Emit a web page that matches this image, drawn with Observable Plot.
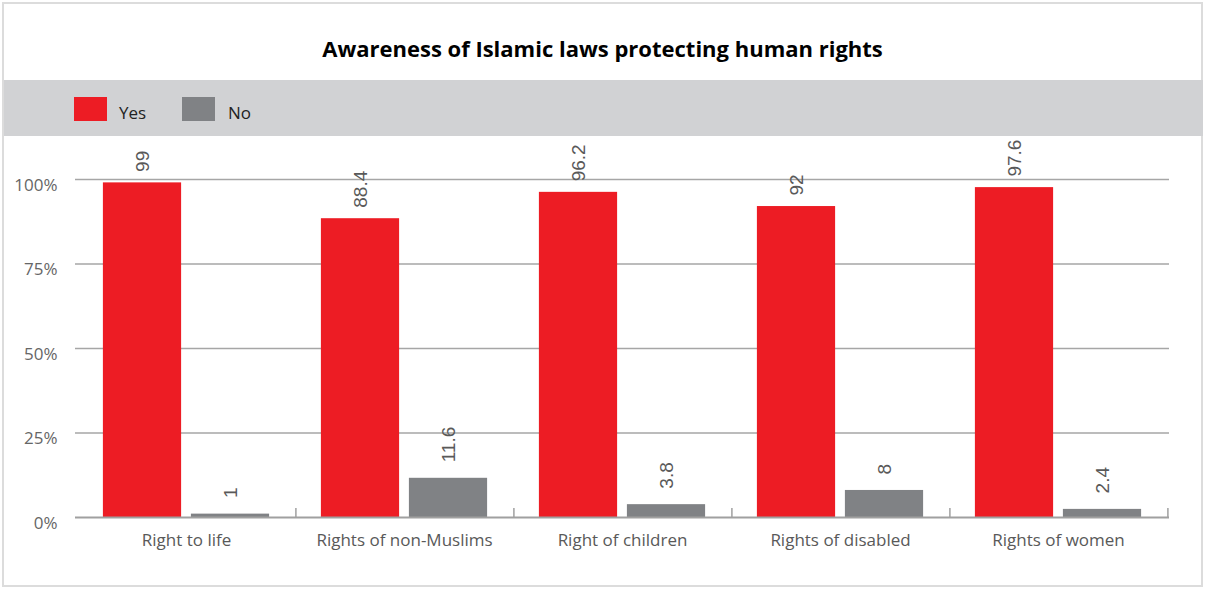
<!DOCTYPE html>
<html>
<head>
<meta charset="utf-8">
<script src="https://cdn.jsdelivr.net/npm/d3@7"></script>
<script src="https://cdn.jsdelivr.net/npm/@observablehq/plot@0.6"></script>
<style>
  html, body { margin: 0; padding: 0; background: #fff; }
  #wrap { position: relative; width: 1205px; height: 589px; overflow: hidden; background: #fff; }
  #border { position: absolute; left: 2px; top: 2px; width: 1201px; height: 585px; border: 2px solid #dcdcdc; box-sizing: border-box; }
  #title { position: absolute; left: 0; width: 1205px; top: 32px; text-align: center; font-family: "Open Sans", sans-serif; font-weight: bold; font-size: 22px; color: #000; line-height: 32px; }
  #legend { position: absolute; left: 4px; top: 80px; width: 1199px; height: 56px; background: #d1d2d4; }
  .sw { position: absolute; top: 17px; width: 33px; height: 24px; }
  .lt { position: absolute; top: 18px; font-family: "Open Sans", sans-serif; font-size: 17px; color: #222; line-height: 30px; }
  #chart { position: absolute; left: 0; top: 136px; }
</style>
</head>
<body>
<div id="wrap">
  <div id="border"></div>
  <div id="title"></div>
  <div id="legend"></div>
  <div id="chart"></div>
</div>
<script>
const title = "Awareness of Islamic laws protecting human rights";
const categories = ["Right to life", "Rights of non-Muslims", "Right of children", "Rights of disabled", "Rights of women"];
const seriesNames = ["Yes", "No"];
const yesValues = [99, 88.4, 96.2, 92, 97.6];
const noValues = [1, 11.6, 3.8, 8, 2.4];
const yTicks = [0, 25, 50, 75, 100];
const colors = ["#ed1c24", "#808285"];

document.getElementById("title").textContent = title;
const legend = document.getElementById("legend");
const swX = [70, 178], txtX = [115, 224];
seriesNames.forEach((s, i) => {
  const sw = document.createElement("div");
  sw.className = "sw"; sw.style.left = swX[i] + "px"; sw.style.background = colors[i];
  legend.appendChild(sw);
  const t = document.createElement("div");
  t.className = "lt"; t.style.left = txtX[i] + "px"; t.textContent = s;
  legend.appendChild(t);
});

const yesData = categories.map((c, i) => ({category: c, value: yesValues[i]}));
const noData = categories.map((c, i) => ({category: c, value: noValues[i]}));

const W = 1205, H = 453, mL = 75, mR = 36;
const bw = (W - mL - mR) / categories.length;
const barW = 79, gap = 9;
const outer = (bw - 2 * barW - gap) / 2;
const yesCenter = outer + barW / 2 - bw / 2;
const noCenter = outer + barW + gap + barW / 2 - bw / 2;

const labelFont = "'Liberation Sans Narrow', 'Liberation Sans', sans-serif";

const chart = Plot.plot({
  width: W,
  height: H,
  marginLeft: mL,
  marginRight: mR,
  marginTop: 43,
  marginBottom: 72,
  style: {fontFamily: "'Open Sans', sans-serif", background: "transparent"},
  x: {domain: categories, padding: 0},
  y: {domain: [0, 100]},
  marks: [
    Plot.ruleY(yTicks.filter(d => d > 0), {stroke: "#a6a6a6", strokeWidth: 1.5}),
    Plot.barY(yesData, {x: "category", y: "value", fill: colors[0], insetLeft: outer, insetRight: bw - outer - barW}),
    Plot.barY(noData, {x: "category", y: "value", fill: colors[1], insetLeft: outer + barW + gap, insetRight: outer}),
    Plot.ruleY([0], {stroke: "#a0a0a0", strokeWidth: 2}),
    Plot.tickX(categories, {x: d => d, dx: bw / 2, stroke: "#a0a0a0", strokeWidth: 1.5, insetTop: 329}),
    Plot.axisY({ticks: yTicks, tickFormat: d => d + "%", tickSize: 0, tickPadding: 18, dy: 6, line: true, stroke: "#a0a0a0", strokeWidth: 1.5, fill: "#666", fontSize: 17, label: null}),
    Plot.axisX({tickSize: 0, tickPadding: 16, fill: "#595959", fontSize: 17, label: null}),
    Plot.text(yesData, {x: "category", y: "value", text: d => String(d.value), rotate: -90, textAnchor: "start", dx: yesCenter, dy: -11, fill: "#595959", fontSize: 19, fontFamily: labelFont}),
    Plot.text(noData, {x: "category", y: "value", text: d => String(d.value), rotate: -90, textAnchor: "start", dx: noCenter, dy: -16, fill: "#595959", fontSize: 19, fontFamily: labelFont})
  ]
});
document.getElementById("chart").appendChild(chart);
</script>
</body>
</html>
